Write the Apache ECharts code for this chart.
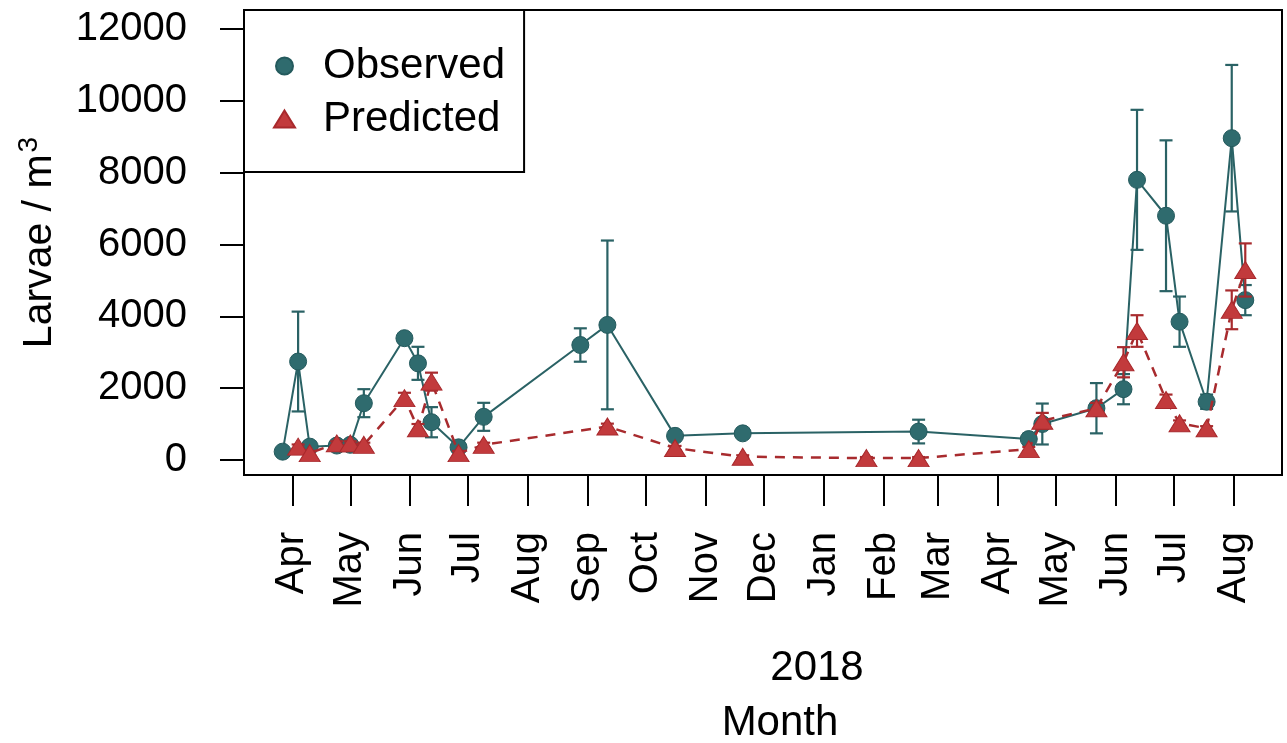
<!DOCTYPE html>
<html>
<head>
<meta charset="utf-8">
<title>Larvae per cubic metre, observed and predicted</title>
<script src="https://cdn.jsdelivr.net/npm/echarts@6/dist/echarts.min.js"></script>
<style>
  html, body { margin: 0; padding: 0; background: #fff; }
  #chart { width: 1287px; height: 743px; }
</style>
</head>
<body>
<div id="chart"></div>
<script>
// Sampling dates
const sampleDates = [
  '2018-03-27', '2018-04-04', '2018-04-10', '2018-04-24', '2018-05-01', '2018-05-08',
  '2018-05-29', '2018-06-05', '2018-06-12', '2018-06-26', '2018-07-09', '2018-08-28',
  '2018-09-11', '2018-10-16', '2018-11-20', '2019-01-23', '2019-02-19', '2019-04-17',
  '2019-04-24', '2019-05-22', '2019-06-05', '2019-06-12', '2019-06-27', '2019-07-04',
  '2019-07-18', '2019-07-31', '2019-08-07'
];

// Observed larval density (larvae / m^3) and its error
const observed = [
  230, 2740, 370, 400, 420, 1580,
  3390, 2690, 1050, 350, 1200, 3200,
  3760, 670, 740, null, 790, 580,
  1000, 1440, 1970, 7800, 6800, 3850,
  1620, 8960, 4450
];
const observedErr = [
  60, 1390, 80, 60, 60, 390,
  120, 460, 420, 60, 390, 465,
  2350, 80, 90, null, 330, 150,
  570, 700, 420, 1950, 2100, 700,
  200, 2040, 420
];

// Predicted larval density and its error
const predicted = [
  null, 370, 190, 460, 460, 420,
  1720, 880, 2180, 190, 420, null,
  930, 330, 90, 50, 50, 300,
  1090, 1440, 2720, 3590, 1670, 1020,
  880, 4180, 5290
];
const predictedErr = [
  null, 60, 60, 60, 60, 60,
  150, 120, 250, 60, 60, null,
  80, 60, 40, 30, 30, 60,
  220, 150, 420, 440, 150, 80,
  60, 540, 740
];

// Axis ticks
const monthTicks = [
  '2018-04-01', '2018-05-01', '2018-06-01', '2018-07-01', '2018-08-01', '2018-09-01',
  '2018-10-01', '2018-11-01', '2018-12-01', '2019-01-01', '2019-02-01', '2019-03-01',
  '2019-04-01', '2019-05-01', '2019-06-01', '2019-07-01', '2019-08-01'
];
const monthLabels = [
  'Apr', 'May', 'Jun', 'Jul', 'Aug', 'Sep', 'Oct', 'Nov', 'Dec',
  'Jan', 'Feb', 'Mar', 'Apr', 'May', 'Jun', 'Jul', 'Aug'
];
const yTicks = [0, 2000, 4000, 6000, 8000, 10000, 12000];

const TEAL = '#2F6B6E';
const TEAL_LINE = '#2A6265';
const RED = '#C23A3C';
const RED_LINE = '#A82B2E';

// Dates are placed on a numeric axis as days since 1 Jan 2018
const DAY0 = Date.UTC(2018, 0, 1);
function toDay(s) {
  const p = s.split('-').map(Number);
  return Math.round((Date.UTC(p[0], p[1] - 1, p[2]) - DAY0) / 86400000);
}

const tickDays = monthTicks.map(toDay);
const labelByDay = {};
tickDays.forEach((t, i) => { labelByDay[t] = monthLabels[i]; });

const obsData = sampleDates.map((d, i) => [toDay(d), observed[i]]);
const predData = sampleDates.map((d, i) => [toDay(d), predicted[i]]);

function errRows(values, errs) {
  const rows = [];
  sampleDates.forEach((d, i) => {
    if (values[i] != null && errs[i] != null) {
      rows.push([toDay(d), values[i] - errs[i], values[i] + errs[i]]);
    }
  });
  return rows;
}

function errorBarRenderer(color) {
  return function (params, api) {
    const x = api.value(0);
    const lo = api.coord([x, api.value(1)]);
    const hi = api.coord([x, api.value(2)]);
    const cap = 6.5;
    const style = { stroke: color, lineWidth: 2.2, fill: null };
    return {
      type: 'group',
      children: [
        { type: 'line', shape: { x1: lo[0], y1: lo[1], x2: hi[0], y2: hi[1] }, style },
        { type: 'line', shape: { x1: hi[0] - cap, y1: hi[1], x2: hi[0] + cap, y2: hi[1] }, style },
        { type: 'line', shape: { x1: lo[0] - cap, y1: lo[1], x2: lo[0] + cap, y2: lo[1] }, style }
      ]
    };
  };
}

const chart = echarts.init(document.getElementById('chart'), null, { renderer: 'canvas' });

const font = 'Liberation Sans, Arial, sans-serif';

chart.setOption({
  animation: false,
  backgroundColor: '#fff',
  textStyle: { fontFamily: font, color: '#000' },
  grid: {
    left: 244, right: 5, top: 10, bottom: 268,
    outerBoundsMode: 'none',
    show: true, borderColor: '#000', borderWidth: 2, backgroundColor: 'transparent'
  },
  title: [
    { text: '2018', left: 812, top: 642, textAlign: 'center',
      textStyle: { fontFamily: font, fontSize: 42, fontWeight: 'normal', color: '#000' } },
    { text: 'Month', left: 775, top: 697, textAlign: 'center',
      textStyle: { fontFamily: font, fontSize: 42, fontWeight: 'normal', color: '#000' } }
  ],
  legend: {
    orient: 'vertical',
    left: 244, top: 10,
    padding: [29.5, 19, 26.5, 29],
    itemGap: 0,
    itemWidth: 21, itemHeight: 17,
    borderColor: '#000', borderWidth: 2,
    backgroundColor: '#fff',
    textStyle: { fontFamily: font, fontSize: 42, lineHeight: 53, color: '#000', padding: [0, 0, 0, 23] },
    data: [
      { name: 'Observed', icon: 'circle', itemStyle: { color: TEAL } },
      { name: 'Predicted', icon: 'triangle', itemStyle: { color: RED } }
    ]
  },
  xAxis: {
    type: 'value',
    min: toDay('2018-03-07'),
    max: toDay('2019-08-26'),
    splitLine: { show: false },
    axisLine: { show: true, onZero: false, lineStyle: { color: '#000', width: 2 } },
    axisTick: { show: true, length: 31, lineStyle: { color: '#000', width: 2 }, customValues: tickDays },
    axisLabel: {
      rotate: 90, margin: 57, fontSize: 40, fontFamily: font, color: '#000',
      customValues: tickDays,
      formatter: function (v) { return labelByDay[Math.round(v)] || ''; }
    }
  },
  yAxis: {
    type: 'value',
    min: -420, max: 12530,
    splitLine: { show: false },
    axisLine: { show: true, onZero: false, lineStyle: { color: '#000', width: 2 } },
    axisTick: { show: true, length: 24, lineStyle: { color: '#000', width: 2 }, customValues: yTicks },
    axisLabel: {
      margin: 57, fontSize: 40, fontFamily: font, color: '#000', customValues: yTicks,
      formatter: function (v) { return String(Math.round(v)); }
    },
    name: '{a|Larvae / m}{s|3}',
    nameLocation: 'middle',
    nameRotate: 90,
    nameGap: 179,
    nameTextStyle: {
      rich: {
        a: { fontFamily: font, fontSize: 41, color: '#000' },
        s: { fontFamily: font, fontSize: 28, color: '#000', padding: [0, 0, 22, 2] }
      }
    }
  },
  series: [
    {
      name: 'ObservedErr', type: 'custom', z: 2, silent: true,
      renderItem: errorBarRenderer(TEAL_LINE),
      encode: { x: 0, y: [1, 2] },
      data: errRows(observed, observedErr)
    },
    {
      name: 'Observed', type: 'line', z: 3,
      data: obsData, connectNulls: true,
      symbol: 'circle', symbolSize: 17,
      lineStyle: { color: TEAL_LINE, width: 2 },
      itemStyle: { color: TEAL, borderColor: '#245A5D', borderWidth: 1 }
    },
    {
      name: 'PredictedErr', type: 'custom', z: 4, silent: true,
      renderItem: errorBarRenderer(RED_LINE),
      encode: { x: 0, y: [1, 2] },
      data: errRows(predicted, predictedErr)
    },
    {
      name: 'Predicted', type: 'line', z: 5,
      data: predData, connectNulls: true,
      symbol: 'triangle', symbolSize: [21, 17],
      lineStyle: { color: RED_LINE, width: 2.5, type: [10, 8] },
      itemStyle: { color: RED, borderColor: '#A8292C', borderWidth: 1 }
    }
  ]
});
</script>
</body>
</html>
